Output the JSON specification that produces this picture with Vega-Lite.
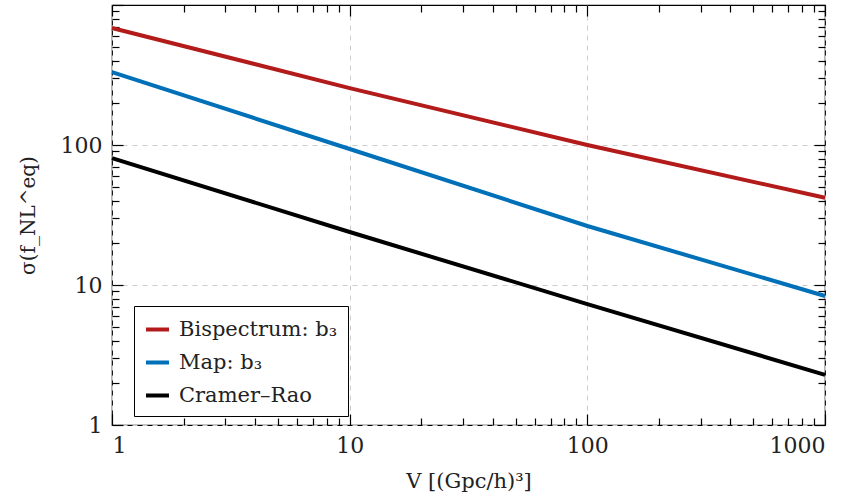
{
  "$schema": "https://vega.github.io/schema/vega-lite/v6.json",
  "width": 713,
  "height": 420,
  "autosize": {"type": "none"},
  "padding": {"left": 112, "top": 5, "right": 27, "bottom": 79},
  "background": "white",
  "config": {
    "view": {"stroke": "black", "strokeWidth": 1.2},
    "font": "DejaVu Serif",
    "axis": {"labelFont": "DejaVu Serif", "titleFont": "DejaVu Serif", "titleFontWeight": "normal", "labelColor": "#222", "titleColor": "#222", "tickColor": "black", "tickWidth": 1.2}
  },
  "data": {
    "values": [
      {"series": "Bispectrum: b₃", "V": 1, "sigma": 685},
      {"series": "Bispectrum: b₃", "V": 10, "sigma": 255},
      {"series": "Bispectrum: b₃", "V": 100, "sigma": 100},
      {"series": "Bispectrum: b₃", "V": 1000, "sigma": 42},
      {"series": "Map: b₃", "V": 1, "sigma": 332},
      {"series": "Map: b₃", "V": 10, "sigma": 93.6},
      {"series": "Map: b₃", "V": 100, "sigma": 26.4},
      {"series": "Map: b₃", "V": 1000, "sigma": 8.35},
      {"series": "Cramer–Rao", "V": 1, "sigma": 80.7},
      {"series": "Cramer–Rao", "V": 10, "sigma": 23.9},
      {"series": "Cramer–Rao", "V": 100, "sigma": 7.31},
      {"series": "Cramer–Rao", "V": 1000, "sigma": 2.28}
    ]
  },
  "resolve": {"axis": {"x": "independent", "y": "independent"}},
  "layer": [
    {
      "mark": {"type": "point", "opacity": 0},
      "encoding": {
        "x": {"field": "V", "type": "quantitative", "scale": {"type": "log", "domain": [1, 1000]},
          "axis": {"orient": "top", "offset": -420, "values": [2,3,4,5,6,7,8,9,20,30,40,50,60,70,80,90,200,300,400,500,600,700,800,900], "labels": false, "grid": false, "domain": false, "tickSize": 7, "title": null}},
        "y": {"field": "sigma", "type": "quantitative", "scale": {"type": "log", "domain": [1, 1000]},
          "axis": {"orient": "right", "offset": -713, "values": [2,3,4,5,6,7,8,9,20,30,40,50,60,70,80,90,200,300,400,500,600,700,800,900], "labels": false, "grid": false, "domain": false, "tickSize": 7, "title": null}}
      }
    },
    {
      "mark": {"type": "point", "opacity": 0},
      "encoding": {
        "x": {"field": "V", "type": "quantitative", "scale": {"type": "log", "domain": [1, 1000]},
          "axis": {"orient": "bottom", "offset": -420, "values": [2,3,4,5,6,7,8,9,20,30,40,50,60,70,80,90,200,300,400,500,600,700,800,900], "labels": false, "grid": false, "domain": false, "tickSize": 7, "title": null}},
        "y": {"field": "sigma", "type": "quantitative", "scale": {"type": "log", "domain": [1, 1000]},
          "axis": {"orient": "left", "offset": -713, "values": [2,3,4,5,6,7,8,9,20,30,40,50,60,70,80,90,200,300,400,500,600,700,800,900], "labels": false, "grid": false, "domain": false, "tickSize": 7, "title": null}}
      }
    },
    {
      "mark": {"type": "point", "opacity": 0},
      "encoding": {
        "x": {"field": "V", "type": "quantitative", "scale": {"type": "log", "domain": [1, 1000]},
          "axis": {"orient": "top", "offset": -420, "values": [1, 10, 100, 1000], "labels": false, "grid": false, "domain": false, "tickSize": 11, "title": null}},
        "y": {"field": "sigma", "type": "quantitative", "scale": {"type": "log", "domain": [1, 1000]},
          "axis": {"orient": "right", "offset": -713, "values": [1, 10, 100, 1000], "labels": false, "grid": false, "domain": false, "tickSize": 11, "title": null}}
      }
    },
    {
      "mark": {"type": "point", "opacity": 0},
      "encoding": {
        "x": {"field": "V", "type": "quantitative", "scale": {"type": "log", "domain": [1, 1000]},
          "axis": {"orient": "bottom", "offset": -420, "values": [1, 10, 100, 1000], "labels": false, "grid": false, "domain": false, "tickSize": 11, "title": null}},
        "y": {"field": "sigma", "type": "quantitative", "scale": {"type": "log", "domain": [1, 1000]},
          "axis": {"orient": "left", "offset": -713, "values": [1, 10, 100, 1000], "labels": false, "grid": false, "domain": false, "tickSize": 11, "title": null}}
      }
    },
    {
      "mark": {"type": "line", "strokeCap": "butt"},
      "encoding": {
        "x": {"field": "V", "type": "quantitative", "scale": {"type": "log", "domain": [1, 1000]},
          "axis": {"orient": "bottom", "values": [1, 10, 100, 1000], "labelExpr": "datum.value", "labelFontSize": 22, "labelPadding": 10, "ticks": false, "grid": true, "gridDash": [5, 5], "gridColor": "#cccccc", "gridWidth": 1, "domain": false,
            "title": "V [(Gpc/h)³]", "titleFontSize": 21, "titlePadding": 14}},
        "y": {"field": "sigma", "type": "quantitative", "scale": {"type": "log", "domain": [1, 1000]},
          "axis": {"orient": "left", "values": [1, 10, 100], "labelExpr": "datum.value", "labelFontSize": 22, "labelPadding": 10, "ticks": false, "grid": true, "gridDash": [5, 5], "gridColor": "#cccccc", "gridWidth": 1, "domain": false,
            "title": "σ(f_NL^eq)", "titleFontSize": 20, "titlePadding": 22}},
        "color": {"field": "series", "type": "nominal", "sort": null,
          "scale": {"domain": ["Bispectrum: b₃", "Map: b₃", "Cramer–Rao"], "range": ["#b31b1b", "#0070b8", "#000000"]},
          "legend": {"title": null, "orient": "none", "legendX": 22, "legendY": 301, "strokeColor": "black", "fillColor": "white", "padding": 10, "symbolType": "stroke", "symbolSize": 529, "symbolStrokeWidth": 4, "labelFont": "DejaVu Serif", "labelFontSize": 21, "labelColor": "#222", "labelOffset": 8, "rowPadding": 9, "cornerRadius": 0}},
        "strokeWidth": {"field": "series", "type": "nominal", "scale": {"domain": ["Bispectrum: b₃", "Map: b₃", "Cramer–Rao"], "range": [4, 4, 3]}, "legend": null}
      }
    }
  ]
}
